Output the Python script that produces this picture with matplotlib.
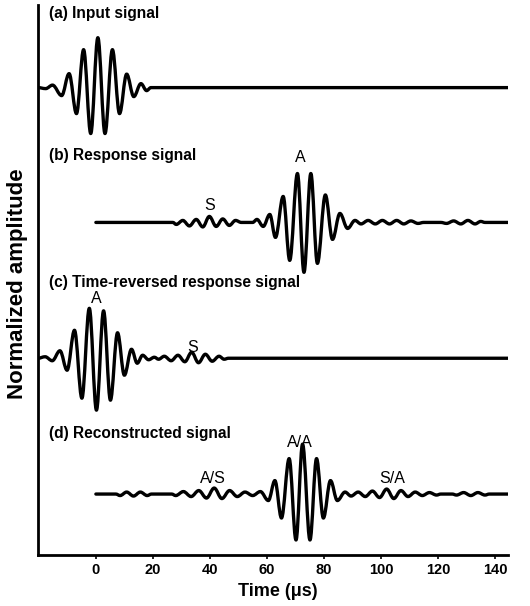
import matplotlib
matplotlib.use("Agg")
import matplotlib.pyplot as plt
from matplotlib.path import Path
from matplotlib.patches import PathPatch

plt.rcParams["font.family"] = ["Liberation Sans", "DejaVu Sans"]

# ── Data: extrema (time in µs, normalized amplitude) ─────────────────────────
input_t = [-20.3, -17.6, -15.2, -12.0, -9.4, -6.8, -4.3, -1.8, 0.7, 3.2, 5.8,
           8.3, 10.8, 13.3, 15.8, 17.8, 19.3, 144.6]
input_a = [0, -0.02, 0.05, -0.16, 0.28, -0.52, 0.76, -0.92, 1.0, -0.92, 0.76,
           -0.52, 0.27, -0.18, 0.08, -0.06, 0, 0]

response_t = [0, 27.0, 28.2, 30.5, 32.8, 35.2, 37.5, 39.8, 42.2, 44.5, 46.8,
              49.0, 51.0, 55.0, 56.5, 58.7, 61.0, 63.0, 65.7, 68.0, 70.7, 73.0,
              75.4, 77.7, 80.5, 83.0, 85.6, 88.3, 90.9, 93.0, 95.5, 98.0, 100.5,
              103.0, 105.5, 108.0, 110.5, 113.0, 115.0, 121.0, 123.0, 125.5,
              128.0, 130.5, 133.0, 135.0, 136.5, 144.6]
response_a = [0, 0, -0.04, 0.04, -0.07, 0.06, -0.09, 0.12, -0.08, 0.07, -0.06,
              0.04, 0, 0, 0.06, -0.08, 0.16, -0.30, 0.52, -0.76, 0.98, -1.0,
              0.98, -0.82, 0.55, -0.34, 0.18, -0.12, 0.04, -0.03, 0.04, -0.03,
              0.04, -0.03, 0.04, -0.03, 0.03, -0.02, 0, 0, -0.02, 0.03, -0.03,
              0.04, -0.03, 0.02, 0, 0]

reversed_t = [-20.3, -17.8, -15.3, -12.6, -10.1, -7.5, -4.9, -2.3, 0.2, 2.7,
              5.1, 7.6, 10.0, 12.5, 14.5, 16.4, 18.5, 20.5, 22.0, 24.0, 26.4,
              28.8, 31.2, 33.6, 36.0, 38.4, 40.8, 43.2, 45.0, 46.5, 144.6]
reversed_a = [0, 0.03, -0.05, 0.15, -0.24, 0.56, -0.80, 1.0, -1.04, 0.95,
              -0.84, 0.51, -0.34, 0.18, -0.10, 0.06, -0.03, 0.02, -0.02, 0.04,
              -0.05, 0.06, -0.07, 0.12, -0.09, 0.08, -0.06, 0.04, -0.02, 0, 0]

recon_t = [0, 7.0, 8.5, 10.8, 13.2, 15.6, 18.0, 19.5, 26.6, 28.0, 30.7, 33.4,
           36.1, 38.8, 41.5, 44.2, 46.9, 49.6, 52.3, 55.0, 57.7, 60.5, 62.8,
           65.1, 67.8, 70.2, 72.5, 75.1, 77.4, 79.8, 82.3, 84.7, 87.4, 89.5,
           92.0, 94.5, 97.0, 99.5, 102.0, 104.5, 107.0, 109.5, 112.0, 114.5,
           117.0, 119.5, 121.0, 125.0, 126.5, 129.0, 131.5, 134.0, 136.5,
           138.0, 144.6]
recon_a = [0, 0, -0.03, 0.04, -0.04, 0.04, -0.03, 0, 0, -0.03, 0.05, -0.05,
           0.07, -0.08, 0.12, -0.09, 0.07, -0.05, 0.04, -0.03, 0.05, -0.13,
           0.27, -0.48, 0.71, -0.92, 1.0, -0.92, 0.71, -0.48, 0.27, -0.13,
           0.04, -0.04, 0.04, -0.05, 0.06, -0.07, 0.10, -0.09, 0.07, -0.05,
           0.04, -0.03, 0.03, -0.02, 0, 0, -0.02, 0.03, -0.03, 0.03, -0.02,
           0, 0]

offsets = [9.36, 6.66, 3.94, 1.22]
panel_labels = ["(a) Input signal", "(b) Response signal",
                "(c) Time-reversed response signal", "(d) Reconstructed signal"]
panel_label_y = [10.84, 8.0, 5.46, 2.44]

mode_labels = ["A", "S", "A", "S", "A/S", "A/A", "S/A"]
mode_x = [71.6, 40.0, 0.0, 34.0, 41.0, 71.6, 104.0]
mode_y = [7.96, 7.0, 5.14, 4.16, 1.54, 2.26, 1.54]

xticks = [0, 20, 40, 60, 80, 100, 120, 140]

signals = [(input_t, input_a), (response_t, response_a),
           (reversed_t, reversed_a), (recon_t, recon_a)]


def smooth_path(ts, amps, base):
    # cubic Bezier through the extrema with flat tangents at each one
    verts = [(ts[0], base + amps[0])]
    codes = [Path.MOVETO]
    for i in range(len(ts) - 1):
        t0, t1 = ts[i], ts[i + 1]
        y0, y1 = base + amps[i], base + amps[i + 1]
        dt = t1 - t0
        verts += [(t0 + 0.36 * dt, y0), (t1 - 0.36 * dt, y1), (t1, y1)]
        codes += [Path.CURVE4] * 3
    return Path(verts, codes)


# ── Figure ───────────────────────────────────────────────────────────────────
fig = plt.figure(figsize=(5.3, 6.06), dpi=100, facecolor="white")
ax = fig.add_axes([0.0717, 0.0842, 0.887, 0.908])
ax.set_xlim(-20.3, 144.6)
ax.set_ylim(0, 11.02)

for (ts, amps), base in zip(signals, offsets):
    ax.add_patch(PathPatch(smooth_path(ts, amps, base), fill=False,
                           edgecolor="black", linewidth=2.4,
                           joinstyle="round", capstyle="round"))

for txt, y in zip(panel_labels, panel_label_y):
    ax.text(-16.3, y, txt, fontsize=11.2, fontweight="bold", va="center",
            ha="left")

for txt, x, y in zip(mode_labels, mode_x, mode_y):
    ax.text(x, y, txt, fontsize=11.5, va="center", ha="center")

ax.spines["top"].set_visible(False)
ax.spines["right"].set_visible(False)
ax.spines["left"].set_linewidth(2.0)
ax.spines["bottom"].set_linewidth(2.0)
ax.set_yticks([])
ax.set_xticks(xticks)
ax.set_xticklabels([str(v) for v in xticks], fontsize=10.5, fontweight="bold")
ax.tick_params(axis="x", direction="out", length=3, width=1.2, pad=3)

fig.text(278 / 530, 1 - 592 / 606, "Time (μs)", fontsize=13,
         fontweight="bold", ha="center", va="center")
fig.text(18 / 530, 1 - 284 / 606, "Normalized amplitude", fontsize=16,
         fontweight="bold", rotation=90, ha="center", va="center")

fig.savefig("out.png", dpi=100, facecolor="white")
